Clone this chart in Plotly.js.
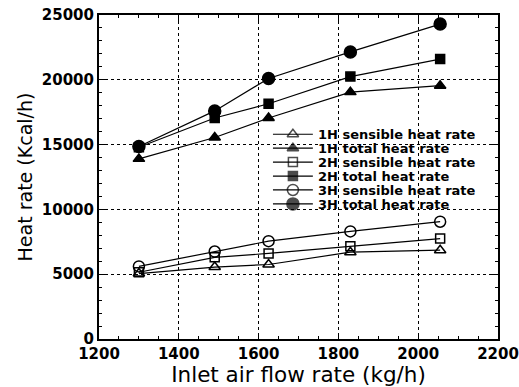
<!DOCTYPE html>
<html><head><meta charset="utf-8">
<script src="https://cdn.plot.ly/plotly-3.0.1.min.js"></script>
<style>body{margin:0;background:#fff}#c{width:519px;height:387px}</style>
</head><body><div id="c"></div>
<script>
const flow = [1300, 1490, 1625, 1830, 2055];
const h1Sensible = [5050, 5550, 5750, 6700, 6850];
const h1Total = [13900, 15550, 17050, 19050, 19550];
const h2Sensible = [5150, 6300, 6600, 7150, 7750];
const h2Total = [14800, 17050, 18150, 20250, 21600];
const h3Sensible = [5600, 6750, 7550, 8300, 9050];
const h3Total = [14850, 17600, 20100, 22150, 24300];
const names = ['1H sensible heat rate','1H total heat rate','2H sensible heat rate','2H total heat rate','3H sensible heat rate','3H total heat rate'];
const series = [h1Sensible, h1Total, h2Sensible, h2Total, h3Sensible, h3Total];
const symbols = ['triangle-up-open','triangle-up','square-open','square','circle-open','circle'];
const sizes = [10,10,9,9,11,12];

const traces = series.map((s,i)=>({
  x: flow, y: s, name: names[i], type:'scatter', mode:'lines+markers', showlegend:false,
  line:{color:'#000', width:1.2},
  marker:{symbol:symbols[i], size:sizes[i], color:'#000', line:{color:'#000', width:1.5}}
}));

// custom compact legend (row spacing tighter than Plotly's native legend allows)
const legX = [0.436, 0.486, 0.536];
const legTextX = 0.546;
const legTop = 0.632, legStep = 0.043;
const annotations = [];
names.forEach((n,i)=>{
  const ry = legTop - i*legStep;
  traces.push({x:legX, y:[ry,ry,ry], xaxis:'x2', yaxis:'y2', type:'scatter', mode:'lines+markers',
    showlegend:false, hoverinfo:'skip', line:{color:'#000', width:1.2},
    marker:{symbol:symbols[i], size:[0,sizes[i],0], color:'#000', line:{color:'#000', width:1.5}}});
  annotations.push({text:n, xref:'paper', yref:'paper', x:legTextX, y:ry, xanchor:'left', yanchor:'middle',
    height:12, borderpad:0, showarrow:false, font:{family:'DejaVu Sans', size:13, color:'#000', weight:'bold'}});
});

const tickFont = {family:'DejaVu Sans', size:15, color:'#000', weight:'bold'};
const layout = {
  width:519, height:387,
  margin:{l:99, r:21, t:15, b:48},
  paper_bgcolor:'#fff', plot_bgcolor:'#fff',
  showlegend:false,
  annotations: annotations,
  xaxis:{range:[1200,2200], dtick:200, tick0:1200, showgrid:true, gridcolor:'#000', griddash:'dot', gridwidth:1,
    zeroline:false, showline:true, linecolor:'#000', linewidth:2, mirror:'ticks', ticks:'inside', ticklen:6, tickcolor:'#000',
    minor:{dtick:50, ticks:'inside', ticklen:3, tickcolor:'#000', showgrid:false},
    tickfont:tickFont,
    title:{text:'Inlet air flow rate (kg/h)', font:{family:'DejaVu Sans', size:21.5, color:'#000'}, standoff:0}},
  yaxis:{range:[0,25000], dtick:5000, showgrid:true, gridcolor:'#000', griddash:'dot', gridwidth:1,
    zeroline:false, showline:true, linecolor:'#000', linewidth:2, mirror:'ticks', ticks:'inside', ticklen:6, tickcolor:'#000',
    minor:{dtick:1000, ticks:'inside', ticklen:3, tickcolor:'#000', showgrid:false},
    tickfont:tickFont, tickformat:'d',
    title:{text:'Heat rate (Kcal/h)', font:{family:'DejaVu Sans', size:19, color:'#000'}, standoff:4}},
  xaxis2:{overlaying:'x', range:[0,1], visible:false, fixedrange:true},
  yaxis2:{overlaying:'y', range:[0,1], visible:false, fixedrange:true}
};
Plotly.newPlot('c', traces, layout, {displayModeBar:false, staticPlot:true});
</script></body></html>
